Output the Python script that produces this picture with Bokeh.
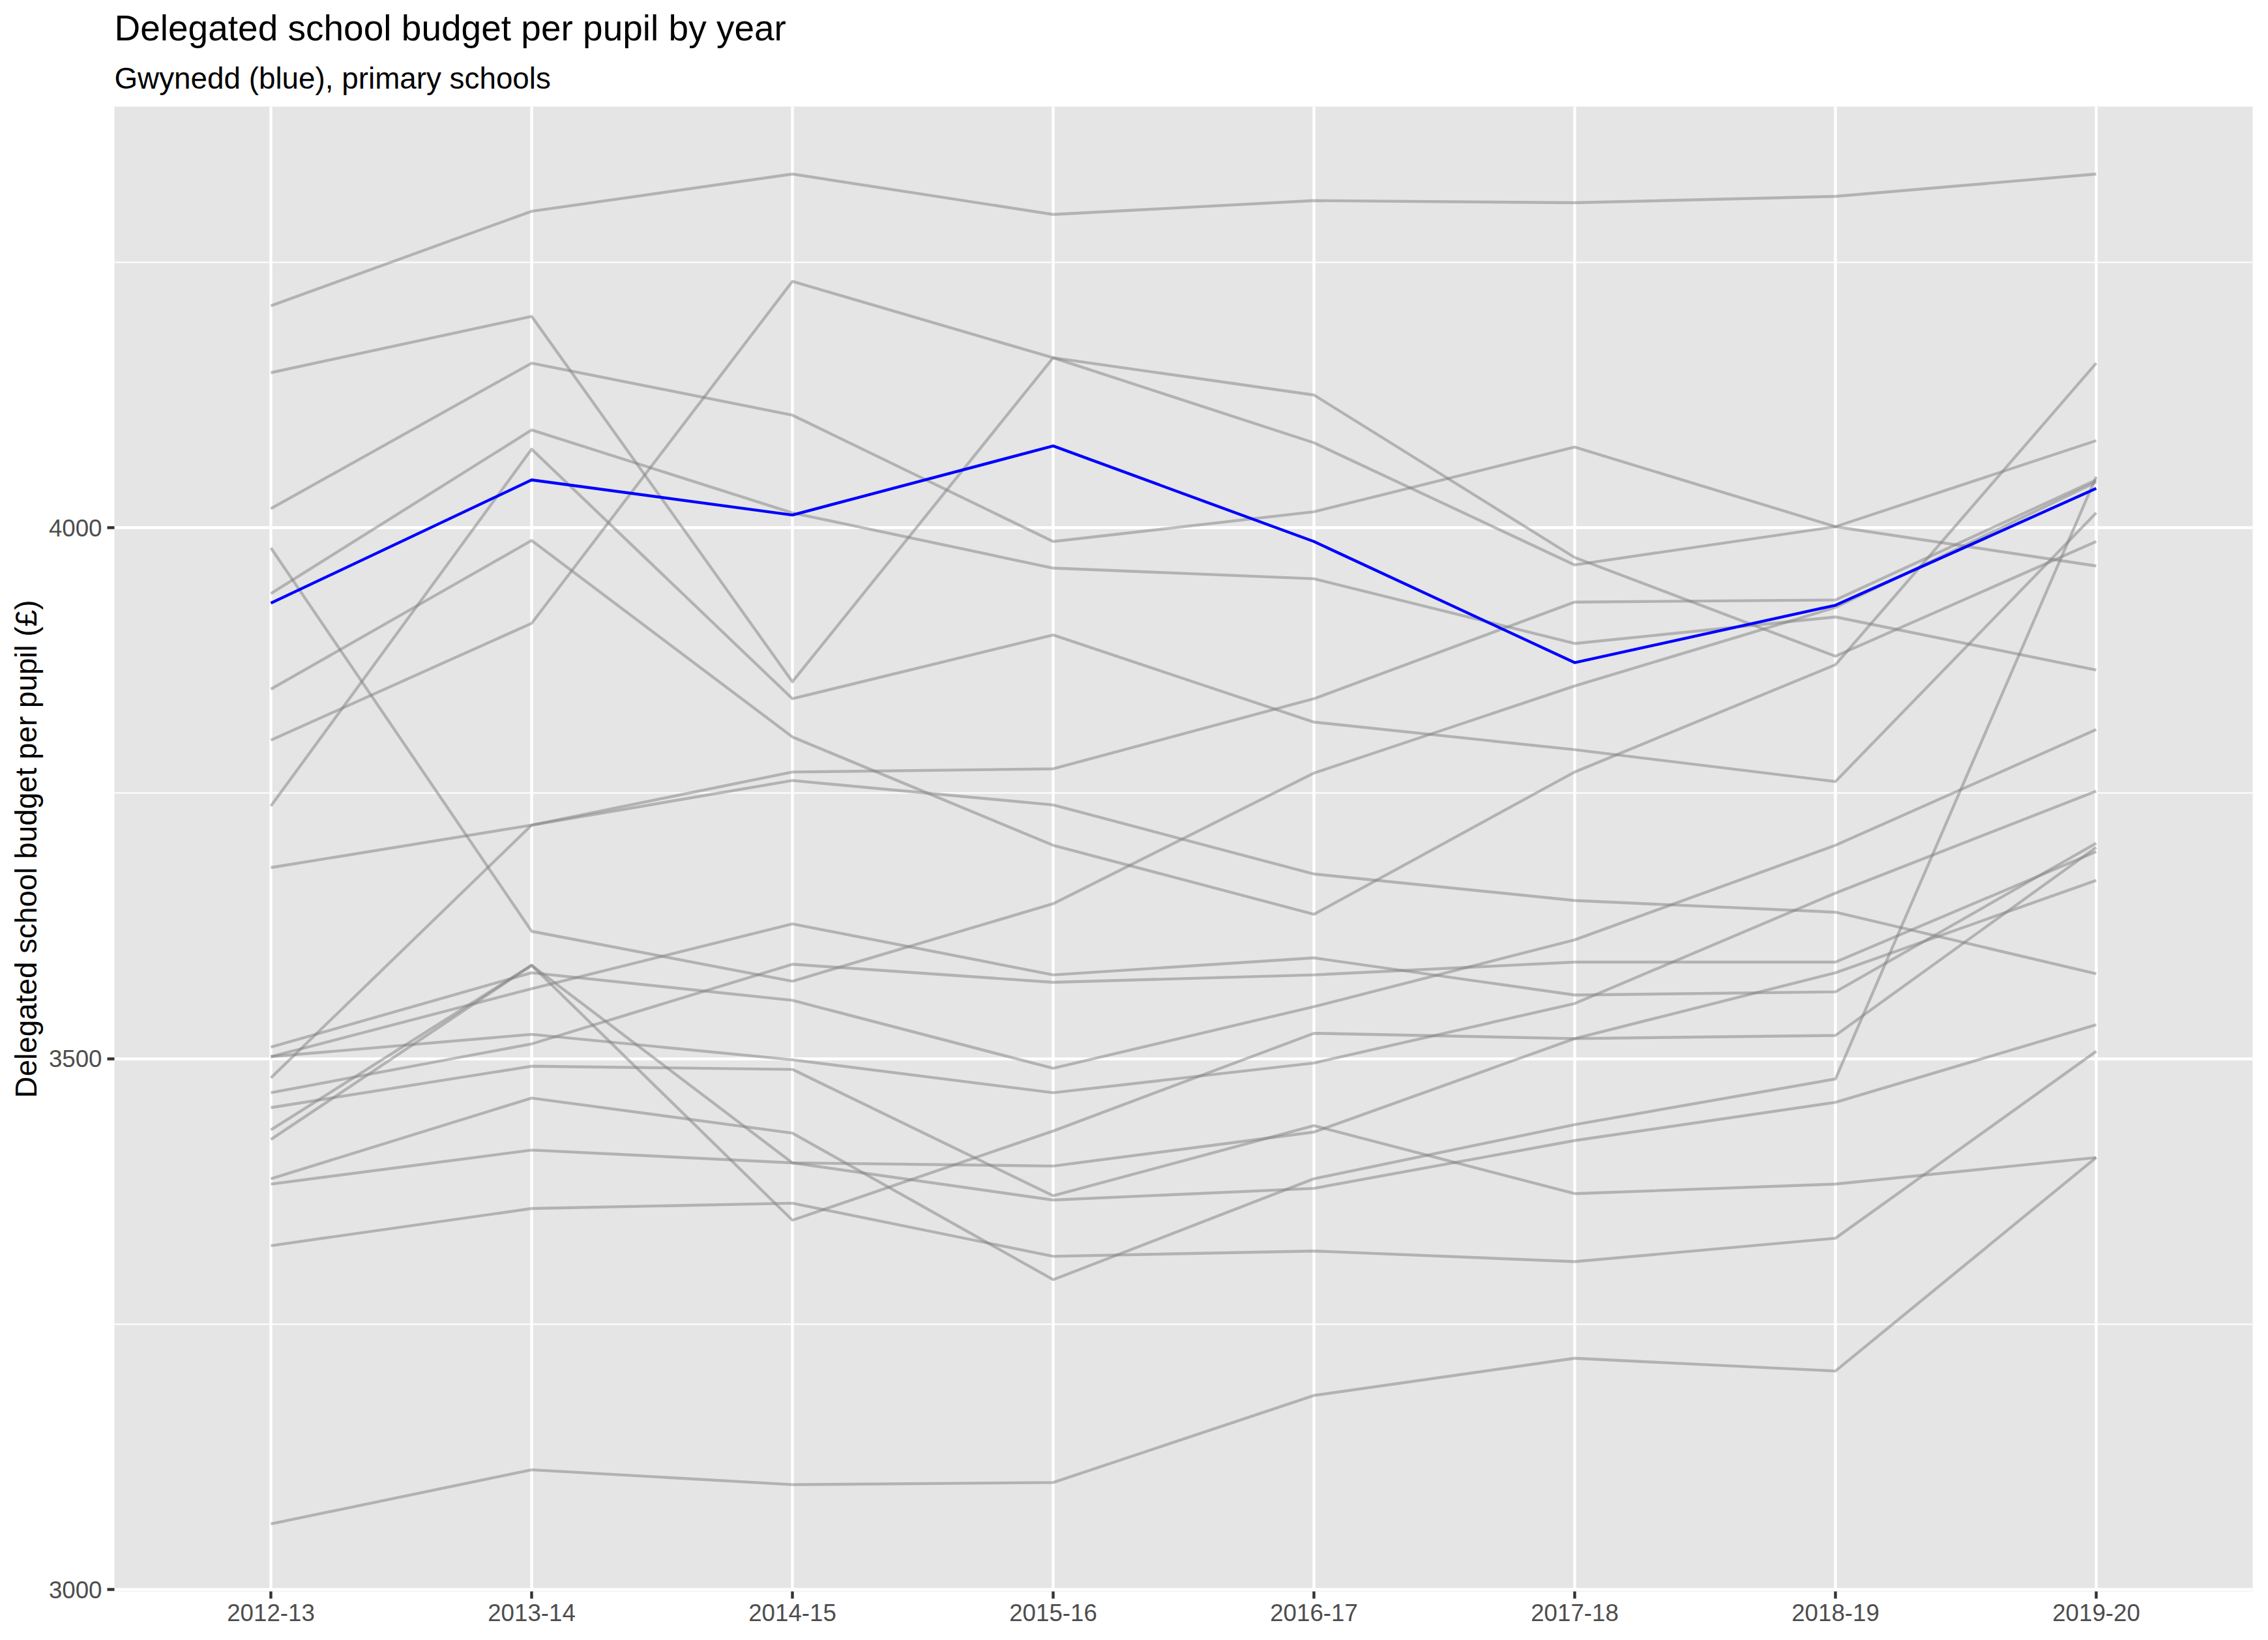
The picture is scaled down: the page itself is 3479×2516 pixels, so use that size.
from bokeh.plotting import figure
from bokeh.models import FactorRange, Range1d, Title, SingleIntervalTicker
from bokeh.embed import file_html
from bokeh.resources import INLINE

years = ["2012-13", "2013-14", "2014-15", "2015-16", "2016-17", "2017-18", "2018-19", "2019-20"]

# Gwynedd (highlighted)
gwynedd = [3929, 4045, 4012, 4077, 3987, 3873, 3927, 4037]

# Other local authorities (grey)
other_01 = [4209, 4298, 4333, 4295, 4308, 4306, 4312, 4333]
other_02 = [4146, 4199, 3855, 4160, 4080, 3965, 4001, 4082]
other_03 = [4018, 4155, 4106, 3987, 4015, 4076, 4001, 3964]
other_04 = [3981, 3620, 3573, 3646, 3769, 3851, 3925, 4043]
other_05 = [3938, 4092, 4014, 3962, 3952, 3891, 3916, 3866]
other_06 = [3848, 3988, 3803, 3701, 3636, 3770, 3871, 4155]
other_07 = [3800, 3910, 4232, 4160, 4125, 3972, 3879, 3987]
other_08 = [3738, 4074, 3839, 3899, 3817, 3791, 3761, 4014]
other_09 = [3680, 3720, 3770, 3773, 3839, 3930, 3932, 4045]
other_10 = [3511, 3581, 3555, 3491, 3549, 3612, 3701, 3810]
other_11 = [3502, 3566, 3627, 3579, 3595, 3560, 3563, 3703]
other_12 = [3502, 3523, 3499, 3468, 3496, 3552, 3656, 3752]
other_13 = [3482, 3720, 3762, 3739, 3674, 3649, 3638, 3580]
other_14 = [3468, 3514, 3589, 3572, 3579, 3591, 3591, 3695]
other_15 = [3454, 3493, 3490, 3371, 3437, 3373, 3382, 3407]
other_16 = [3433, 3588, 3402, 3367, 3378, 3423, 3459, 3532]
other_17 = [3424, 3588, 3348, 3432, 3524, 3519, 3522, 3699]
other_18 = [3387, 3463, 3430, 3292, 3387, 3438, 3481, 4048]
other_19 = [3382, 3414, 3402, 3399, 3431, 3519, 3581, 3668]
other_20 = [3324, 3359, 3364, 3314, 3319, 3309, 3331, 3507]
other_21 = [3062, 3113, 3099, 3101, 3183, 3218, 3206, 3407]

others = [other_01, other_02, other_03, other_04, other_05, other_06, other_07,
          other_08, other_09, other_10, other_11, other_12, other_13, other_14,
          other_15, other_16, other_17, other_18, other_19, other_20, other_21]

title_text = "Delegated school budget per pupil by year"
subtitle_text = "Gwynedd (blue), primary schools"
y_label = "Delegated school budget per pupil (£)"

FONT = "Liberation Sans"

all_vals = [v for s in others + [gwynedd] for v in s]
lo, hi = min(all_vals), max(all_vals)
pad = 0.05 * (hi - lo)

p = figure(width=3463, height=2500,
           x_range=FactorRange(factors=years, range_padding=0.1, range_padding_units="absolute"),
           y_range=Range1d(lo - pad, hi + pad),
           output_backend="svg", toolbar_location=None,
           min_border_left=175, min_border_right=8, min_border_top=163, min_border_bottom=59)
p.title = None

sub = Title(text=subtitle_text, align="left", text_font=FONT, text_font_size="45.8px",
            text_font_style="normal", text_color="black", standoff=36)
p.add_layout(sub, "above")
ttl = Title(text=title_text, align="left", text_font=FONT, text_font_size="55px",
            text_font_style="normal", text_color="black", standoff=2)
p.add_layout(ttl, "above")

p.background_fill_color = "#E5E5E5"
p.border_fill_color = "white"
p.outline_line_color = None

for s in others:
    p.line(years, s, line_color="#7F7F7F", line_alpha=0.5, line_width=4.4, line_join="round")
p.line(years, gwynedd, line_color="#0000FF", line_width=4.4, line_join="round")

p.yaxis.ticker = SingleIntervalTicker(interval=500, num_minor_ticks=2)

p.xgrid.grid_line_color = "white"
p.xgrid.grid_line_width = 4.4
p.ygrid.grid_line_color = "white"
p.ygrid.grid_line_width = 4.4
p.ygrid.minor_grid_line_color = "white"
p.ygrid.minor_grid_line_width = 2.2

for ax in (p.xaxis[0], p.yaxis[0]):
    ax.axis_line_color = None
    ax.major_tick_line_color = "#333333"
    ax.major_tick_line_width = 4.4
    ax.major_tick_out = 11
    ax.major_tick_in = 0
    ax.minor_tick_line_color = None
    ax.major_label_text_font = FONT
    ax.major_label_text_font_size = "36.7px"
    ax.major_label_text_color = "#4D4D4D"
    ax.major_label_standoff = 8

p.yaxis.axis_label = y_label
p.yaxis.axis_label_text_font = FONT
p.yaxis.axis_label_text_font_size = "45.8px"
p.yaxis.axis_label_text_font_style = "normal"
p.yaxis.axis_label_text_color = "black"
p.yaxis.axis_label_standoff = 6

open("out.html", "w").write(file_html(p, INLINE))
